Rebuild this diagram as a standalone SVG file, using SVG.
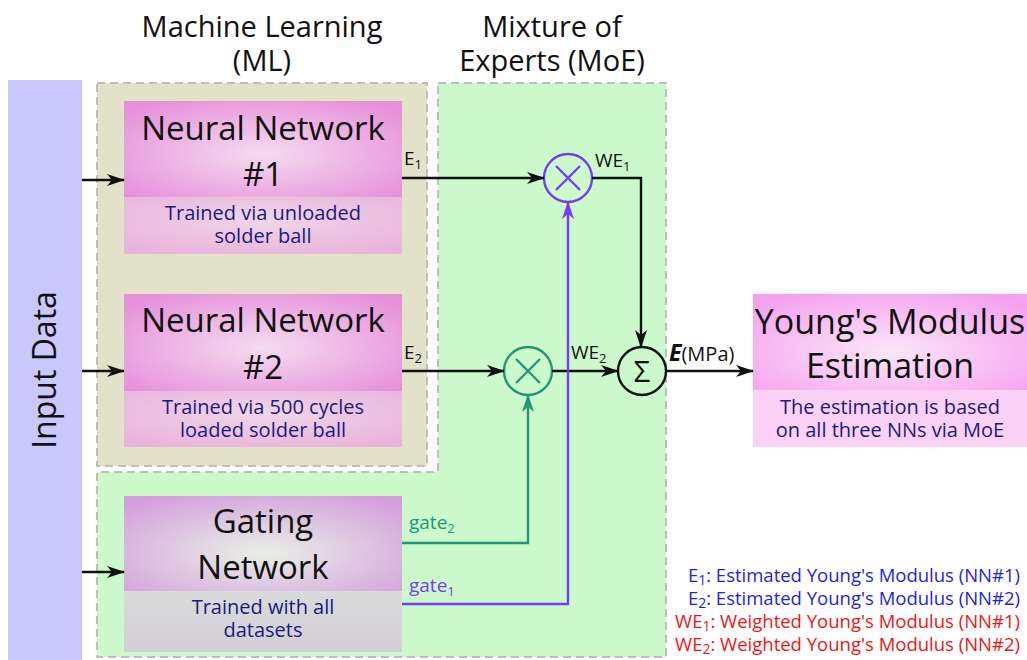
<svg xmlns="http://www.w3.org/2000/svg" width="1027" height="660" viewBox="0 0 1027 660">
<style>
.t{font-family:"Open Sans","DejaVu Sans",sans-serif;fill:#111}
.big{font-size:33px}
.sub{font-size:20px;fill:#1a1a80}
.hdr{font-size:29px}
.lbl{font-size:19px}
.ln{fill:none;stroke:#111;stroke-width:2.4}
.lg{font-family:"Open Sans","DejaVu Sans",sans-serif;font-size:18.5px;text-anchor:end}
</style>
<defs>
<marker id="ak" markerWidth="18" markerHeight="12" refX="17" refY="6" orient="auto" markerUnits="userSpaceOnUse"><path d="M0,0 L18,6 L0,12 L5,6 z" fill="#111"/></marker>
<marker id="ap" markerWidth="18" markerHeight="12" refX="17" refY="6" orient="auto" markerUnits="userSpaceOnUse"><path d="M0,0 L18,6 L0,12 L5,6 z" fill="#7a3cf0"/></marker>
<marker id="at" markerWidth="18" markerHeight="12" refX="17" refY="6" orient="auto" markerUnits="userSpaceOnUse"><path d="M0,0 L18,6 L0,12 L5,6 z" fill="#23967a"/></marker>
<radialGradient id="gNN" cx="0.5" cy="0.55" r="0.65">
<stop offset="0" stop-color="#f4dcee"/><stop offset="1" stop-color="#e690dc"/></radialGradient>
<radialGradient id="gNNb" cx="0.5" cy="0.4" r="0.7">
<stop offset="0" stop-color="#f0d6e6"/><stop offset="1" stop-color="#e8b2dc"/></radialGradient>
<radialGradient id="gG" cx="0.5" cy="0.6" r="0.7">
<stop offset="0" stop-color="#e8f0e6"/><stop offset="1" stop-color="#d49edc"/></radialGradient>
<linearGradient id="gGb" x1="0" y1="0" x2="0" y2="1">
<stop offset="0" stop-color="#dadada"/><stop offset="1" stop-color="#d2cfd6"/></linearGradient>
<radialGradient id="gY" cx="0.5" cy="0.6" r="0.7">
<stop offset="0" stop-color="#fbe6fa"/><stop offset="1" stop-color="#f5a0ee"/></radialGradient>
</defs>
<rect width="1027" height="660" fill="#fff"/>

<g id="headers">
<text class="t hdr" text-anchor="middle"><tspan x="262" y="37">Machine Learning</tspan><tspan x="262" y="71">(ML)</tspan></text>
<text class="t hdr" text-anchor="middle"><tspan x="552" y="37">Mixture of</tspan><tspan x="552" y="71">Experts (MoE)</tspan></text>
</g>

<g id="input">
<rect x="8" y="80" width="74" height="580" fill="#c8c8fc"/>
<text class="t" font-size="32" transform="translate(56,370) rotate(-90)" text-anchor="middle">Input Data</text>
</g>

<g id="ml-region">
<rect x="97" y="83" width="330" height="383" fill="#e2e2c9" stroke="#bdbdbd" stroke-width="2" stroke-dasharray="8,5"/>
</g>
<g id="moe-region">
<path d="M438,83 H666 V657 H97 V472 H438 Z" fill="#ccf9cc" stroke="#bdbdbd" stroke-width="2" stroke-dasharray="8,5"/>
</g>

<g id="nn1">
<rect x="124" y="101" width="278" height="96" fill="url(#gNN)"/>
<rect x="124" y="197" width="278" height="57" fill="url(#gNNb)"/>
<text class="t big" text-anchor="middle"><tspan x="263" y="140">Neural Network</tspan><tspan x="263" y="186">#1</tspan></text>
<text class="t sub" text-anchor="middle"><tspan x="263" y="220">Trained via unloaded</tspan><tspan x="263" y="243">solder ball</tspan></text>
</g>

<g id="nn2">
<rect x="124" y="294" width="278" height="97" fill="url(#gNN)"/>
<rect x="124" y="391" width="278" height="56" fill="url(#gNNb)"/>
<text class="t big" text-anchor="middle"><tspan x="263" y="332">Neural Network</tspan><tspan x="263" y="379">#2</tspan></text>
<text class="t sub" text-anchor="middle"><tspan x="263" y="414">Trained via 500 cycles</tspan><tspan x="263" y="437">loaded solder ball</tspan></text>
</g>

<g id="gating">
<rect x="124" y="496" width="278" height="95" fill="url(#gG)"/>
<rect x="124" y="591" width="278" height="61" fill="url(#gGb)"/>
<text class="t big" text-anchor="middle"><tspan x="263" y="533">Gating</tspan><tspan x="263" y="579">Network</tspan></text>
<text class="t sub" text-anchor="middle"><tspan x="263" y="614">Trained with all</tspan><tspan x="263" y="637">datasets</tspan></text>
</g>

<g id="mult1">
<circle cx="568" cy="178" r="24" fill="none" stroke="#7a3cf0" stroke-width="2.4"/>
<path d="M556,166 L580,190 M580,166 L556,190" stroke="#7a3cf0" stroke-width="2.4"/>
</g>
<g id="mult2">
<circle cx="528" cy="371" r="24" fill="none" stroke="#23967a" stroke-width="2.4"/>
<path d="M516,359 L540,383 M540,359 L516,383" stroke="#23967a" stroke-width="2.4"/>
</g>
<g id="sum">
<circle cx="642" cy="371" r="24" fill="none" stroke="#111" stroke-width="2.4"/>
<text class="t" font-size="29" x="642" y="382" text-anchor="middle">Σ</text>
</g>

<g id="output">
<rect x="753" y="294" width="274" height="96" fill="url(#gY)"/>
<rect x="753" y="390" width="274" height="57" fill="#fbd2f6"/>
<text class="t" font-size="34" text-anchor="middle"><tspan x="890" y="334">Young's Modulus</tspan><tspan x="890" y="378">Estimation</tspan></text>
<text class="t sub" text-anchor="middle"><tspan x="890" y="414">The estimation is based</tspan><tspan x="890" y="437">on all three NNs via MoE</tspan></text>
</g>

<g id="connectors">
<path class="ln" d="M82,180 H124" marker-end="url(#ak)"/>
<path class="ln" d="M82,371 H124" marker-end="url(#ak)"/>
<path class="ln" d="M82,572 H124" marker-end="url(#ak)"/>
<path class="ln" d="M402,178 H544" marker-end="url(#ak)"/>
<path class="ln" d="M402,371 H504" marker-end="url(#ak)"/>
<path class="ln" d="M592,178 H641 V347" marker-end="url(#ak)"/>
<path class="ln" d="M552,371 H618" marker-end="url(#ak)"/>
<path class="ln" d="M666,371 H753" marker-end="url(#ak)"/>
<path d="M402,604 H568 V202" fill="none" stroke="#7a3cf0" stroke-width="2.4" marker-end="url(#ap)"/>
<path d="M402,543 H528 V395" fill="none" stroke="#23967a" stroke-width="2.4" marker-end="url(#at)"/>
</g>

<g id="labels">
<text class="t lbl" x="404" y="165">E<tspan font-size="13" dy="4">1</tspan></text>
<text class="t lbl" x="404" y="359">E<tspan font-size="13" dy="4">2</tspan></text>
<text class="t lbl" x="595" y="167">WE<tspan font-size="13" dy="4">1</tspan></text>
<text class="t lbl" x="571" y="359">WE<tspan font-size="13" dy="4">2</tspan></text>
<text class="t" font-size="20" x="669" y="361"><tspan font-weight="bold" font-style="italic" font-size="23">E</tspan>(MPa)</text>
<text class="t lbl" x="409" y="529" style="fill:#23967a">gate<tspan font-size="13" dy="4">2</tspan></text>
<text class="t lbl" x="409" y="592" style="fill:#7a3cf0">gate<tspan font-size="13" dy="4">1</tspan></text>
</g>

<g id="legend">
<text class="lg" x="1020" y="582" fill="#1e1ee6">E<tspan font-size="14" dy="3">1</tspan><tspan dy="-3">: Estimated Young's Modulus (NN#1)</tspan></text>
<text class="lg" x="1020" y="605" fill="#1e1ee6">E<tspan font-size="14" dy="3">2</tspan><tspan dy="-3">: Estimated Young's Modulus (NN#2)</tspan></text>
<text class="lg" x="1020" y="628" fill="#ee1515">WE<tspan font-size="14" dy="3">1</tspan><tspan dy="-3">: Weighted Young's Modulus (NN#1)</tspan></text>
<text class="lg" x="1020" y="651" fill="#ee1515">WE<tspan font-size="14" dy="3">2</tspan><tspan dy="-3">: Weighted Young's Modulus (NN#2)</tspan></text>
</g>
</svg>
